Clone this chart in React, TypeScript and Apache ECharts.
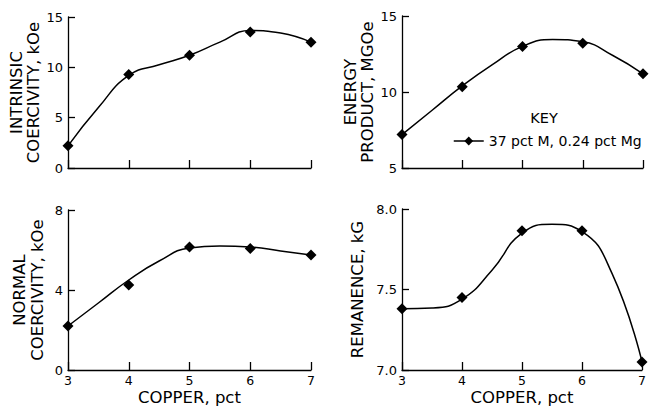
import { useEffect, useRef } from 'react';
import * as echarts from 'echarts';

const copper = [3, 4, 5, 6, 7];
const curveCopper = [3, 3.5, 4, 4.5, 5, 5.5, 6, 6.5, 7];
const xTicks = ['3', '4', '5', '6', '7'];

const intrinsic = [2.2, 9.3, 11.2, 13.5, 12.5];
const intrinsicCurve = [2.2, 6.0, 9.2, 10.25, 11.2, 12.5, 13.65, 13.4, 12.5];

const energy = [7.2, 10.35, 13.0, 13.2, 11.2];
const energyCurve = [7.2, 8.8, 10.4, 11.8, 13.0, 13.45, 13.3, 12.4, 11.2];

const normal = [2.2, 4.25, 6.15, 6.08, 5.75];
const normalCurve = [2.2, 3.35, 4.5, 5.45, 6.1, 6.2, 6.15, 5.95, 5.75];

const remanence = [7.38, 7.45, 7.865, 7.865, 7.05];
const remanenceCurve = [7.38, 7.385, 7.44, 7.62, 7.85, 7.905, 7.86, 7.6, 7.05];

const legendLabel = '37 pct M, 0.24 pct Mg';
const FONT = 'DejaVu Sans';

export default function App() {
  const ref = useRef<HTMLDivElement>(null);
  useEffect(() => {
    const chart = echarts.init(ref.current!, null, { renderer: 'svg' });
    const panels = [
      { grid: { left: 68, top: 17, width: 243, height: 151 }, min: 0, max: 15, interval: 5, name: 'INTRINSIC\nCOERCIVITY, kOe', gap: 22, pts: intrinsic, curve: intrinsicCurve, bottom: false, dec: 0, sname: 'intrinsic' },
      { grid: { left: 402, top: 16, width: 241, height: 152 }, min: 5, max: 15, interval: 5, name: 'ENERGY\nPRODUCT, MGOe', gap: 17, pts: energy, curve: energyCurve, bottom: false, dec: 0, sname: legendLabel },
      { grid: { left: 68, top: 210, width: 243, height: 160 }, min: 0, max: 8, interval: 4, name: 'NORMAL\nCOERCIVITY, kOe', gap: 22, pts: normal, curve: normalCurve, bottom: true, dec: 0, sname: 'normal' },
      { grid: { left: 402, top: 209, width: 240, height: 161 }, min: 7, max: 8, interval: 0.5, name: 'REMANENCE, kG', gap: 36, pts: remanence, curve: remanenceCurve, bottom: true, dec: 1, sname: 'remanence' },
    ];
    const textStyle = { fontFamily: FONT, color: '#000' };
    const option: any = {
      animation: false,
      backgroundColor: '#fff',
      textStyle,
      grid: panels.map((p) => ({ ...p.grid, containLabel: false })),
      xAxis: panels.map((p, i) => ({
        type: 'value',
        gridIndex: i,
        min: 3,
        max: 7,
        interval: 1,
        name: p.bottom ? 'COPPER, pct' : '',
        nameLocation: 'middle',
        nameGap: 19,
        nameTextStyle: { fontFamily: FONT, fontSize: 16.5, color: '#000' },
        axisLine: { show: true, lineStyle: { color: '#000', width: 1.3 } },
        axisTick: { show: true, inside: true, length: 8, lineStyle: { color: '#000', width: 1.3 } },
        axisLabel: { show: p.bottom, margin: 4, fontSize: 12.5, fontFamily: FONT, color: '#000', formatter: (v: number) => xTicks[copper.indexOf(v)] ?? '' },
        splitLine: { show: false },
      })),
      yAxis: panels.map((p, i) => ({
        type: 'value',
        gridIndex: i,
        position: 'left',
        min: p.min,
        max: p.max,
        interval: p.interval,
        name: p.name,
        nameLocation: 'middle',
        nameRotate: 90,
        nameGap: p.gap,
        nameTextStyle: { fontFamily: FONT, fontSize: 16.5, color: '#000', lineHeight: 17.5 },
        axisLine: { show: true, lineStyle: { color: '#000', width: 1.3 } },
        axisTick: { show: true, inside: true, length: 7, lineStyle: { color: '#000', width: 1.3 } },
        axisLabel: { margin: 5, fontSize: 13, fontFamily: FONT, color: '#000', formatter: (v: number) => v.toFixed(p.dec) },
        splitLine: { show: false },
      })),
      legend: {
        data: [legendLabel],
        left: 448,
        top: 129,
        itemWidth: 30,
        itemHeight: 11,
        itemGap: 4,
        textStyle: { fontFamily: FONT, fontSize: 14, color: '#000' },
        lineStyle: { color: '#000', width: 1.5, opacity: 1 },
        itemStyle: { color: '#000' },
      },
      graphic: [
        { type: 'text', x: 544, y: 118, style: { text: 'KEY', font: `14.5px ${FONT}`, fill: '#000', align: 'center', verticalAlign: 'middle' } },
      ],
      series: panels.flatMap((p, i) => [
        {
          type: 'line',
          name: p.sname + ' curve',
          xAxisIndex: i,
          yAxisIndex: i,
          data: curveCopper.map((x, k) => [x, p.curve[k]]),
          smooth: 0.5,
          showSymbol: false,
          symbol: 'none',
          lineStyle: { color: '#000', width: 1.5 },
          silent: true,
          z: 2,
        },
        {
          type: 'line',
          name: p.sname,
          xAxisIndex: i,
          yAxisIndex: i,
          data: copper.map((x, k) => [x, p.pts[k]]),
          symbol: 'diamond',
          symbolSize: 11,
          showSymbol: true,
          itemStyle: { color: '#000' },
          lineStyle: { width: 0, opacity: 0 },
          z: 3,
        },
      ]),
    };
    chart.setOption(option);
    return () => chart.dispose();
  }, []);
  return <div ref={ref} style={{ position: 'absolute', left: 0, top: 0, width: 649, height: 414 }} />;
}
